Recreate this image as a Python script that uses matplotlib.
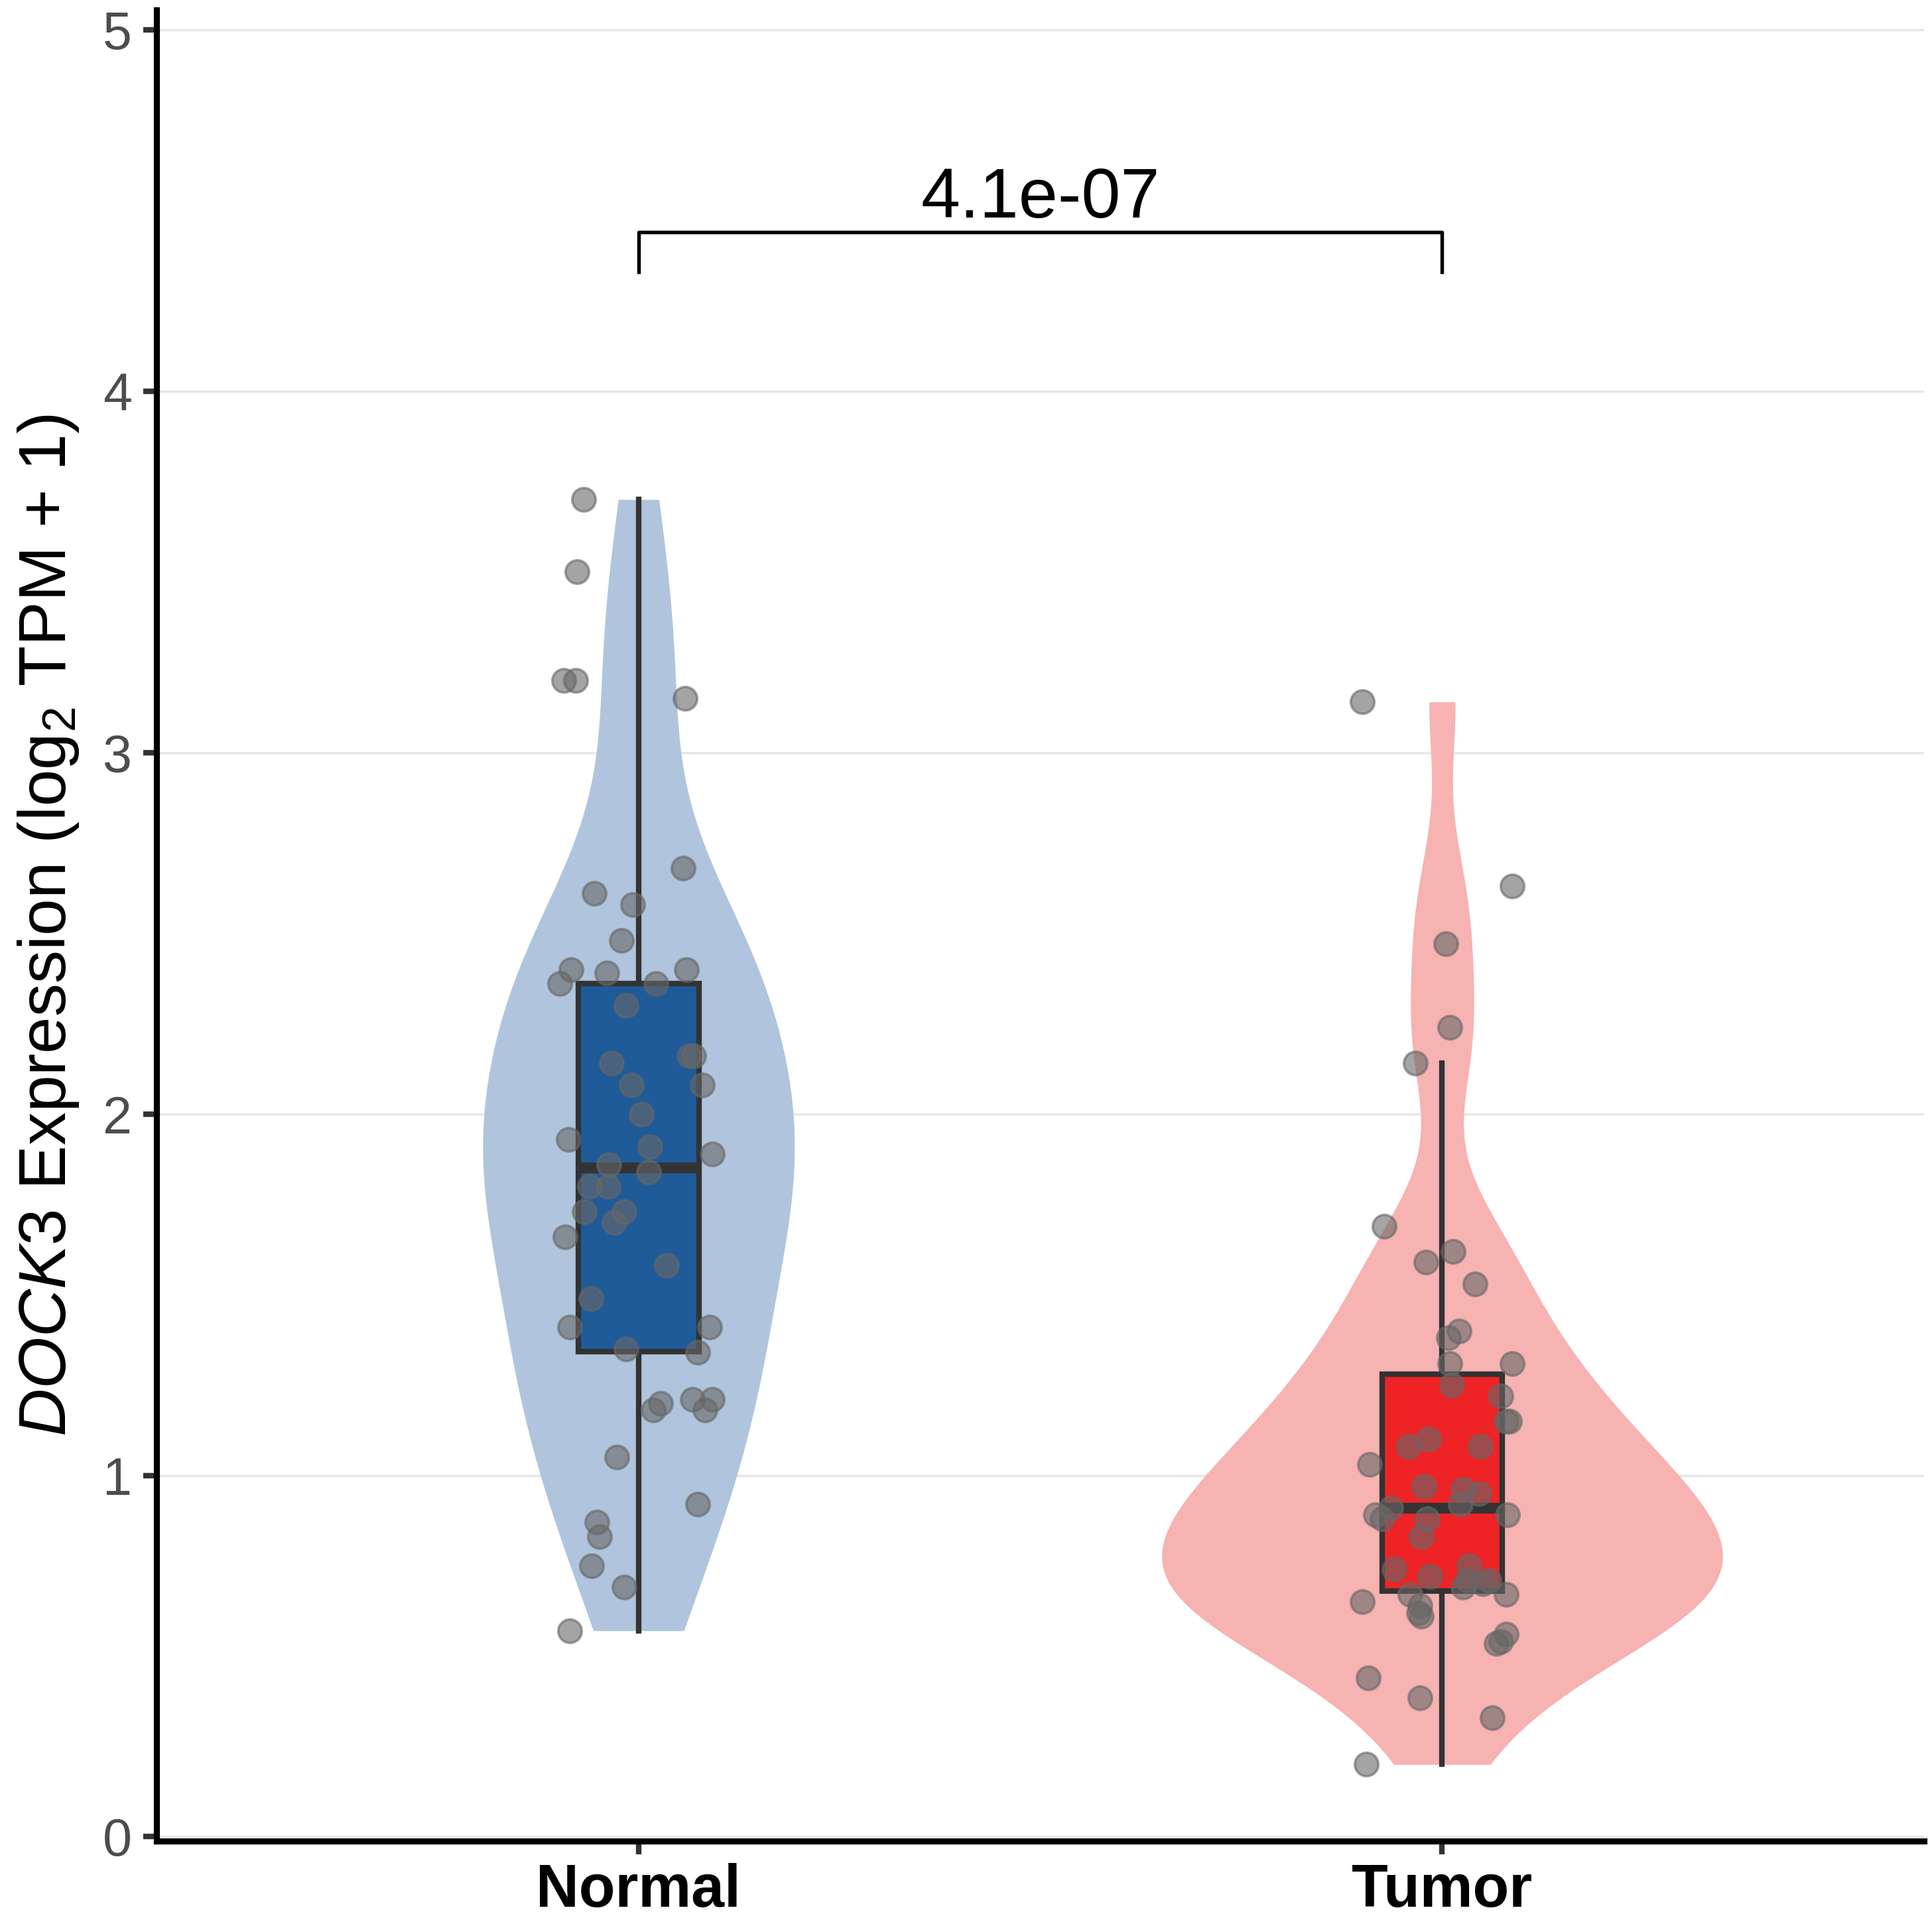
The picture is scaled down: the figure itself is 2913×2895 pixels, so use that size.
import numpy as np
import matplotlib
matplotlib.use("Agg")
import matplotlib.pyplot as plt

plt.rcParams['font.family'] = ['Liberation Sans', 'DejaVu Sans']
plt.rcParams['mathtext.fontset'] = 'custom'
plt.rcParams['mathtext.rm'] = 'Liberation Sans'
plt.rcParams['mathtext.it'] = 'Liberation Sans:italic'

groups = ["Normal", "Tumor"]

normal = [3.70, 3.50, 3.20, 3.20, 3.15, 2.68, 2.61, 2.58, 2.48, 2.40,
          2.39, 2.40, 2.36, 2.36, 2.30, 2.14, 2.16, 2.16, 2.08, 2.08,
          2.00, 1.93, 1.91, 1.89, 1.86, 1.84, 1.80, 1.80, 1.73, 1.73,
          1.70, 1.66, 1.58, 1.49, 1.41, 1.41, 1.35, 1.34, 1.20, 1.18,
          1.21, 1.21, 1.18, 1.05, 0.92, 0.87, 0.83, 0.75, 0.69, 0.57]
normal_jit = [-45, -50, -61, -51, 38, 36, -36, -5, -14, -55,
              -26, 39, -64, 14, -10, -22, 41, 45, -6, 52,
              2, -57, 9, 60, -24, 8, -40, -25, -44, -12,
              -20, -60, 23, -39, -56, 58, -10, 48, 18, 12,
              44, 60, 54, -18, 48, -34, -32, -38, -12, -56]

tumor = [3.14, 2.63, 2.47, 2.24, 2.14, 1.69, 1.62, 1.59, 1.53, 1.40,
         1.38, 1.31, 1.31, 1.25, 1.22, 1.15, 1.15, 1.10, 1.08, 1.08,
         1.03, 0.97, 0.96, 0.95, 0.91, 0.92, 0.89, 0.88, 0.89, 0.88,
         0.83, 0.75, 0.74, 0.72, 0.71, 0.71, 0.69, 0.70, 0.67, 0.67,
         0.65, 0.64, 0.62, 0.61, 0.54, 0.56, 0.535, 0.44, 0.385, 0.33,
         0.20]
tumor_jit = [-65, 57, 3, 6, -22, -47, 9, -13, 27, 14,
             5, 6, 57, 8, 48, 52, 55, -11, -27, 31,
             -59, -15, 17, 30, -42, 15, -54, -49, 53, -12,
             -17, 22, -39, -10, 21, 38, 17, 33, -26, 52,
             -65, -18, -19, -17, 48, 52, 44, -60, -18, 41,
             -62]

p_text = "4.1e-07"

violin_colors = ["#b0c5dd", "#f7b2b2"]
box_colors = ["#1f5b99", "#ee2326"]
half_widths = [0.194, 0.349]

fig = plt.figure(figsize=(2913 / 300, 2895 / 300), dpi=300)
ax = fig.add_axes([0.081, 0.0411, 0.915, 0.9538])

data = [np.array(normal), np.array(tumor)]
jit = [np.array(normal_jit) / 654.0, np.array(tumor_jit) / 654.0]


def kde_curve(v, n=512):
    # bw.nrd0 like R
    sd = v.std(ddof=1)
    iqr = np.subtract(*np.percentile(v, [75, 25]))
    bw = 0.9 * min(sd, iqr / 1.34) * len(v) ** -0.2
    ys = np.linspace(v.min(), v.max(), n)
    d = np.exp(-0.5 * ((ys[:, None] - v[None, :]) / bw) ** 2).sum(axis=1)
    return ys, d / d.max()


for i, v in enumerate(data):
    pos = i + 1
    ys, d = kde_curve(v)
    w = d * half_widths[i]
    ax.fill_betweenx(ys, pos - w, pos + w, color=violin_colors[i], lw=0, zorder=1)

bp = ax.boxplot(data, positions=[1, 2], widths=0.15, showfliers=False,
                patch_artist=True, whis=1.5, manage_ticks=False,
                boxprops=dict(lw=2.0, color="#333333"),
                whiskerprops=dict(lw=2.0, color="#333333"),
                capprops=dict(lw=0),
                medianprops=dict(lw=3.9, color="#333333", solid_capstyle="butt"),
                zorder=2)
for patch, c in zip(bp['boxes'], box_colors):
    patch.set_facecolor(c)
    patch.set_edgecolor("#333333")

for i, v in enumerate(data):
    ax.scatter(i + 1 + jit[i], v, s=72, color="#676767", alpha=0.6,
               edgecolors="#676767", linewidths=0.9, zorder=3)

# significance bracket
ax.plot([1, 1, 2, 2], [4.33, 4.44, 4.44, 4.33], color="black", lw=1.3, zorder=4)
ax.text(1.5, 4.48, p_text, ha="center", va="baseline", fontsize=25.5)

ax.set_xlim(0.4, 2.6)
ax.set_ylim(-0.012, 5.055)
ax.set_yticks([0, 1, 2, 3, 4, 5])
ax.set_xticks([1, 2])
ax.set_xticklabels(groups, fontsize=21.5, fontweight="bold", color="black")
ax.tick_params(axis="y", labelsize=19, labelcolor="#4d4d4d", length=4.8,
               width=2.0, color="#333333", pad=4)
ax.tick_params(axis="x", length=4.8, width=2.0, color="#333333", pad=3)
ax.yaxis.grid(True, color="#e6e6e6", lw=0.8)
ax.set_axisbelow(True)
for s in ["top", "right"]:
    ax.spines[s].set_visible(False)
for s in ["left", "bottom"]:
    ax.spines[s].set_linewidth(2.2)
    ax.spines[s].set_color("black")

ax.set_ylabel(r"$\it{DOCK3}$ Expression (log$_2$ TPM + 1)", fontsize=24, labelpad=8)

fig.savefig("out.png", dpi=300)
